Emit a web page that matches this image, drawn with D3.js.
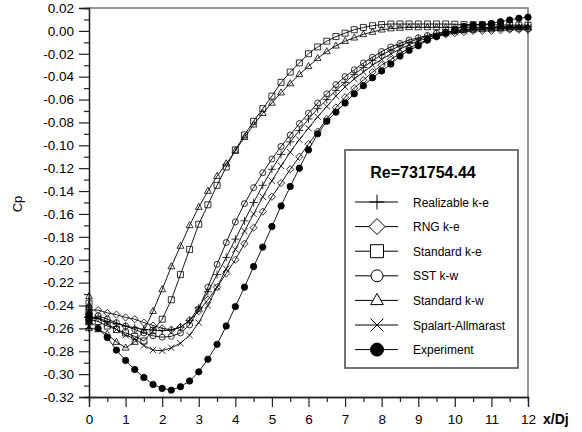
<!DOCTYPE html>
<html>
<head>
<script src="https://d3js.org/d3.v7.min.js"></script>
<title>Cp vs x/Dj</title>
<style>
  body { margin: 0; background: #fff; }
  svg { display: block; font-family: Arial, "Liberation Sans", sans-serif; }
</style>
</head>
<body>
<script>
var width = 582, height = 432;

// axial stations (x/Dj)
var xs = [0, 0.25, 0.5, 0.75, 1, 1.25, 1.5, 1.75, 2, 2.25, 2.5, 2.75, 3, 3.25, 3.5, 3.75,
          4, 4.25, 4.5, 4.75, 5, 5.25, 5.5, 5.75, 6, 6.25, 6.5, 6.75, 7, 7.25, 7.5, 7.75,
          8, 8.25, 8.5, 8.75, 9, 9.25, 9.5, 9.75, 10, 10.25, 10.5, 10.75, 11, 11.25, 11.5, 11.75, 12];

var realizable = [-0.250, -0.251, -0.254, -0.256, -0.258, -0.2595, -0.261, -0.2615, -0.262, -0.2615, -0.259, -0.253,
                  -0.242, -0.228, -0.213, -0.198, -0.182, -0.166, -0.150, -0.135, -0.121, -0.108, -0.097, -0.087,
                  -0.077, -0.068, -0.060, -0.052, -0.045, -0.038, -0.032, -0.026, -0.021, -0.017, -0.013, -0.010,
                  -0.007, -0.005, -0.003, -0.001, 0.000, 0.001, 0.002, 0.003, 0.003, 0.004, 0.004, 0.004, 0.004];
var rng = [-0.244, -0.244, -0.2465, -0.248, -0.2505, -0.252, -0.255, -0.2575, -0.260, -0.2612, -0.259, -0.253,
           -0.245, -0.235, -0.224, -0.212, -0.200, -0.186, -0.172, -0.158, -0.145, -0.133, -0.121, -0.110,
           -0.099, -0.088, -0.077, -0.067, -0.058, -0.050, -0.043, -0.036, -0.030, -0.025, -0.020, -0.015,
           -0.011, -0.008, -0.005, -0.003, -0.002, -0.001, 0, 0, 0, 0.0005, 0.001, 0.001, 0.001];
var standardKE = [-0.252, -0.254, -0.258, -0.261, -0.264, -0.267, -0.271, -0.262, -0.252, -0.235, -0.213, -0.191,
                  -0.169, -0.152, -0.135, -0.119, -0.104, -0.091, -0.079, -0.068, -0.057, -0.045, -0.036, -0.028,
                  -0.020, -0.014, -0.009, -0.005, -0.002, 0.001, 0.003, 0.0045, 0.0055, 0.006, 0.006, 0.006,
                  0.006, 0.006, 0.006, 0.006, 0.0058, 0.0056, 0.0055, 0.0054, 0.0053, 0.0052, 0.0051, 0.005, 0.005];
var sst = [-0.252, -0.249, -0.252, -0.255, -0.258, -0.261, -0.264, -0.2665, -0.2677, -0.267, -0.264, -0.257,
           -0.243, -0.224, -0.204, -0.185, -0.167, -0.151, -0.137, -0.124, -0.112, -0.101, -0.091, -0.081,
           -0.072, -0.063, -0.055, -0.047, -0.040, -0.034, -0.028, -0.023, -0.018, -0.014, -0.011, -0.008,
           -0.006, -0.004, -0.002, -0.001, 0, 0.001, 0.001, 0.0015, 0.0015, 0.002, 0.002, 0.002, 0.002];
var standardKW = [-0.260, -0.261, -0.265, -0.272, -0.277, -0.272, -0.262, -0.245, -0.226, -0.206, -0.188, -0.170,
                  -0.154, -0.140, -0.127, -0.116, -0.105, -0.093, -0.082, -0.072, -0.063, -0.054, -0.046, -0.038,
                  -0.031, -0.024, -0.018, -0.013, -0.009, -0.006, -0.003, -0.001, 0.001, 0.002, 0.0025, 0.003,
                  0.003, 0.003, 0.003, 0.003, 0.003, 0.003, 0.003, 0.003, 0.003, 0.003, 0.003, 0.003, 0.003];
var spalart = [-0.252, -0.251, -0.256, -0.261, -0.266, -0.269, -0.275, -0.279, -0.2795, -0.277, -0.273, -0.266,
               -0.255, -0.240, -0.224, -0.208, -0.191, -0.175, -0.160, -0.145, -0.131, -0.118, -0.106, -0.095,
               -0.085, -0.075, -0.066, -0.057, -0.049, -0.042, -0.036, -0.030, -0.025, -0.020, -0.016, -0.012,
               -0.009, -0.006, -0.004, -0.002, -0.001, 0, 0.001, 0.002, 0.002, 0.003, 0.003, 0.003, 0.003];
var experiment = [-0.253, -0.260, -0.268, -0.279, -0.288, -0.296, -0.303, -0.309, -0.3125, -0.314, -0.311, -0.306,
                  -0.298, -0.287, -0.274, -0.258, -0.241, -0.224, -0.206, -0.189, -0.171, -0.153, -0.136, -0.120,
                  -0.104, -0.090, -0.079, -0.071, -0.063, -0.055, -0.048, -0.041, -0.035, -0.029, -0.022, -0.017,
                  -0.013, -0.008, -0.005, -0.002, 0.001, 0.004, 0.005, 0.0055, 0.0065, 0.008, 0.0095, 0.011, 0.012];

// extra points stacked at the nozzle exit (x/Dj = 0)
var leadRealizable = [-0.256, -0.260];
var leadRng = [-0.250];
var leadKE = [-0.238, -0.246];
var leadSST = [-0.242, -0.247];
var leadKW = [-0.232, -0.240, -0.248, -0.255];
var leadSpalart = [-0.258];
var leadExperiment = [-0.248];

var names = ["Realizable k-e", "RNG k-e", "Standard k-e", "SST k-w", "Standard k-w", "Spalart-Allmarast", "Experiment"];
var xTicks = [0, 1, 2, 3, 4, 5, 6, 7, 8, 9, 10, 11, 12];
var yTicks = [0.02, 0.00, -0.02, -0.04, -0.06, -0.08, -0.10, -0.12, -0.14, -0.16, -0.18, -0.20,
              -0.22, -0.24, -0.26, -0.28, -0.30, -0.32];

var series = [
  { values: realizable, lead: leadRealizable, type: "plus", s: 4, ls: 7.5 },
  { values: rng, lead: leadRng, type: "diamond", s: 3.6, ls: 8 },
  { values: standardKE, lead: leadKE, type: "square", s: 3, ls: 6.5 },
  { values: sst, lead: leadSST, type: "circle", s: 3, ls: 6 },
  { values: standardKW, lead: leadKW, type: "triangle", s: 3.8, ls: 7 },
  { values: spalart, lead: leadSpalart, type: "x", s: 3.2, ls: 6.5 },
  { values: experiment, lead: leadExperiment, type: "dot", s: 3.2, ls: 6.5 }
];

var svg = d3.select("body").append("svg")
    .attr("width", width)
    .attr("height", height);

var x = d3.scaleLinear().domain([0, 12]).range([89, 528]);
var y = d3.scaleLinear().domain([-0.32, 0.02]).range([397, 8]);

// marker shapes centred on 0,0
function marker(type, s) {
  if (type == "plus") return "M" + (-s) + ",0H" + s + "M0," + (-s) + "V" + s;
  if (type == "x") return "M" + (-s) + "," + (-s) + "L" + s + "," + s + "M" + (-s) + "," + s + "L" + s + "," + (-s);
  if (type == "diamond") return "M0," + (-s) + "L" + s + ",0L0," + s + "L" + (-s) + ",0Z";
  if (type == "square") return "M" + (-s) + "," + (-s) + "H" + s + "V" + s + "H" + (-s) + "Z";
  if (type == "triangle") return "M0," + (-s) + "L" + (s * 0.9) + "," + (s * 0.6) + "L" + (-s * 0.9) + "," + (s * 0.6) + "Z";
  // circle / dot
  return "M" + s + ",0A" + s + "," + s + " 0 1,1 " + (-s) + ",0A" + s + "," + s + " 0 1,1 " + s + ",0Z";
}

// frame (top + right)
svg.append("path")
    .attr("d", "M" + x(0) + "," + y(0.02) + "H" + x(12) + "V" + y(-0.32))
    .attr("fill", "none")
    .attr("stroke", "#777")
    .attr("stroke-width", 1.5);

// minor ticks halfway between the labelled ones
var yMinor = yTicks.slice(1).map(function(v, i) { return (v + yTicks[i]) / 2; });
var xMinor = xTicks.slice(1).map(function(v, i) { return (v + xTicks[i]) / 2; });

var yMinorAxis = svg.append("g").attr("transform", "translate(" + x(0) + ",0)")
    .call(d3.axisLeft(y).tickValues(yMinor).tickSize(5).tickFormat(""));
var yAxis = svg.append("g").attr("transform", "translate(" + x(0) + ",0)")
    .call(d3.axisLeft(y).tickValues(yTicks).tickSize(10).tickPadding(5)
          .tickFormat(function(d) { return d.toFixed(2); }));
var xMinorAxis = svg.append("g").attr("transform", "translate(0," + y(-0.32) + ")")
    .call(d3.axisBottom(x).tickValues(xMinor).tickSize(5).tickFormat(""));
var xAxis = svg.append("g").attr("transform", "translate(0," + y(-0.32) + ")")
    .call(d3.axisBottom(x).tickValues(xTicks).tickSize(10).tickPadding(7));

svg.selectAll(".domain").attr("stroke", "#222").attr("stroke-width", 1.3);
svg.selectAll(".tick line").attr("stroke", "#222").attr("stroke-width", 1.2);
svg.selectAll(".tick text").attr("font-size", 13.5).attr("fill", "#000")
    .attr("font-family", "Arial, 'Liberation Sans', sans-serif");

svg.append("text")
    .attr("transform", "translate(22,204) rotate(-90)")
    .attr("text-anchor", "middle")
    .attr("font-size", 13)
    .text("Cp");

svg.append("text")
    .attr("x", 543).attr("y", 424)
    .attr("font-size", 14)
    .attr("font-weight", "bold")
    .text("x/Dj");

// curves
var line = d3.line()
    .x(function(d) { return x(d[0]); })
    .y(function(d) { return y(d[1]); });

series.forEach(function(s) {
  var pts = s.lead.map(function(v) { return [0, v]; })
      .concat(xs.map(function(v, i) { return [v, s.values[i]]; }));
  var g = svg.append("g");
  g.append("path")
      .attr("d", line(pts))
      .attr("fill", "none")
      .attr("stroke", "#000")
      .attr("stroke-width", 0.9);
  g.selectAll("path.m")
      .data(pts)
      .enter()
      .append("path")
      .attr("class", "m")
      .attr("d", marker(s.type, s.s))
      .attr("transform", function(d) { return "translate(" + x(d[0]) + "," + y(d[1]) + ")"; })
      .attr("fill", s.type == "dot" ? "#000" : "none")
      .attr("stroke", "#000")
      .attr("stroke-width", 0.8);
});

// legend
var lg = svg.append("g");
lg.append("rect")
    .attr("x", 345).attr("y", 150)
    .attr("width", 173).attr("height", 218)
    .attr("fill", "#fff")
    .attr("stroke", "#666")
    .attr("stroke-width", 1.8);
lg.append("text")
    .attr("x", 423).attr("y", 178)
    .attr("text-anchor", "middle")
    .attr("font-size", 16)
    .attr("font-weight", "bold")
    .text("Re=731754.44");

var rows = lg.selectAll("g.row")
    .data(series)
    .enter()
    .append("g")
    .attr("class", "row")
    .attr("transform", function(d, i) { return "translate(0," + (202 + i * 24.6) + ")"; });
rows.append("line")
    .attr("x1", 355).attr("x2", 398)
    .attr("stroke", "#000").attr("stroke-width", 1);
rows.append("path")
    .attr("d", function(d) { return marker(d.type, d.ls); })
    .attr("transform", "translate(377,0)")
    .attr("fill", function(d) { return d.type == "dot" ? "#000" : "#fff"; })
    .attr("stroke", "#000")
    .attr("stroke-width", 1);
rows.append("text")
    .attr("x", 413).attr("y", 4.5)
    .attr("font-size", 12)
    .text(function(d, i) { return names[i]; });
</script>
</body>
</html>
